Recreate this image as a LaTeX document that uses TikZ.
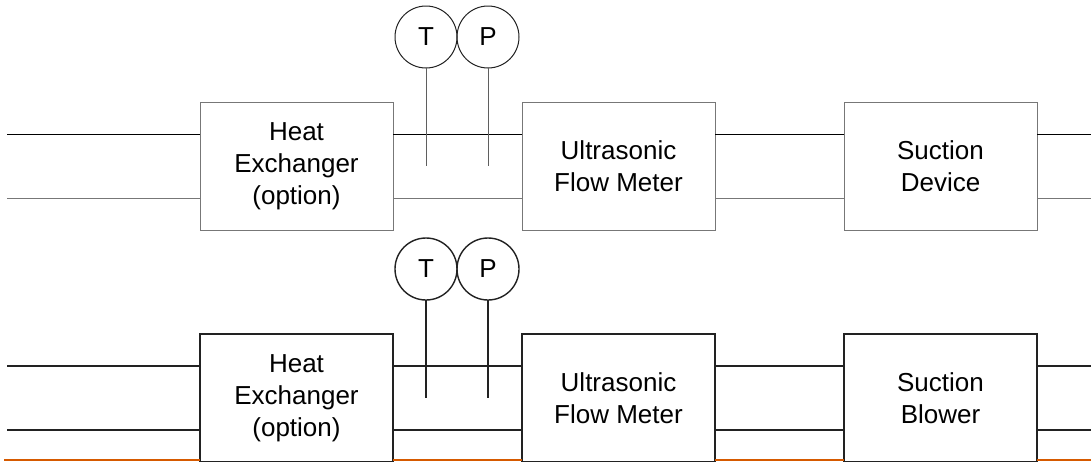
\documentclass[tikz,border=0pt]{standalone}
\usepackage{fontspec}
\setmainfont{Liberation Sans}
\usetikzlibrary{positioning}

\definecolor{linegray}{HTML}{777777}
\definecolor{inkdark}{HTML}{222222}
\definecolor{orangeline}{RGB}{214,90,0}

\begin{document}
\begin{tikzpicture}[
  x=1pt, y=-1pt,
  unit/.style={draw, fill=white, minimum width=193pt, minimum height=128pt,
    inner sep=0pt, outer sep=0pt, align=center,
    font=\fontsize{26}{32}\selectfont},
  gauge/.style={draw, circle, minimum size=62pt, inner sep=0pt, outer sep=0pt,
    font=\fontsize{26}{32}\selectfont},
  node distance=129pt,
]
  \useasboundingbox (0,0) rectangle (1091,461);
  \coordinate (in) at (7,0);
  \coordinate (out) at (1091,0);

  % Upper line-up
  \node[unit, draw=linegray, line width=1pt] (heat) at (296.5,166) {Heat\\Exchanger\\(option)};
  \node[unit, draw=linegray, line width=1pt, right=of heat] (flow) {Ultrasonic\\Flow Meter};
  \node[unit, draw=linegray, line width=1pt, right=of flow] (suct) {Suction\\Device};

  \foreach \dy/\col in {32/black, -32/linegray}
    \draw[\col, line width=1pt]
      ([yshift=\dy pt]heat.west -| in) -- ([yshift=\dy pt]heat.west)
      ([yshift=\dy pt]heat.east) -- ([yshift=\dy pt]flow.west)
      ([yshift=\dy pt]flow.east) -- ([yshift=\dy pt]suct.west)
      ([yshift=\dy pt]suct.east) -- ([yshift=\dy pt]suct.east -| out);

  % Sensors, upper
  \node[gauge, draw=inkdark, line width=1pt] (temp) at (426,37) {T};
  \node[gauge, draw=inkdark, line width=1pt, right=0pt of temp] (pres) {P};
  \draw[linegray!80!black, line width=1pt] (temp.south) -- (temp.south |- heat.center);
  \draw[linegray!80!black, line width=1pt] (pres.south) -- (pres.south |- heat.center);

  % Lower line-up
  \node[unit, draw=inkdark, line width=1.4pt] (heatB) at (296.5,398) {Heat\\Exchanger\\(option)};
  \node[unit, draw=inkdark, line width=1.4pt, right=of heatB] (flowB) {Ultrasonic\\Flow Meter};
  \node[unit, draw=inkdark, line width=1.4pt, right=of flowB] (suctB) {Suction\\Blower};

  \foreach \dy in {32, -32}
    \draw[inkdark, line width=1.4pt]
      ([yshift=\dy pt]heatB.west -| in) -- ([yshift=\dy pt]heatB.west)
      ([yshift=\dy pt]heatB.east) -- ([yshift=\dy pt]flowB.west)
      ([yshift=\dy pt]flowB.east) -- ([yshift=\dy pt]suctB.west)
      ([yshift=\dy pt]suctB.east) -- ([yshift=\dy pt]suctB.east -| out);

  \draw[orangeline, line width=1.4pt]
    ([yshift=-62pt]heatB.west -| 4,0) -- ([yshift=-62pt]heatB.west)
    ([yshift=-62pt]heatB.east) -- ([yshift=-62pt]flowB.west)
    ([yshift=-62pt]flowB.east) -- ([yshift=-62pt]suctB.west)
    ([yshift=-62pt]suctB.east) -- ([yshift=-62pt]suctB.east -| out);

  % Sensors, lower
  \node[gauge, draw=inkdark, line width=1.4pt] (tempB) at (426,269) {T};
  \node[gauge, draw=inkdark, line width=1.4pt, right=0pt of tempB] (presB) {P};
  \draw[inkdark, line width=1.4pt] (tempB.south) -- (tempB.south |- heatB.center);
  \draw[inkdark, line width=1.4pt] (presB.south) -- (presB.south |- heatB.center);

\end{tikzpicture}
\end{document}
